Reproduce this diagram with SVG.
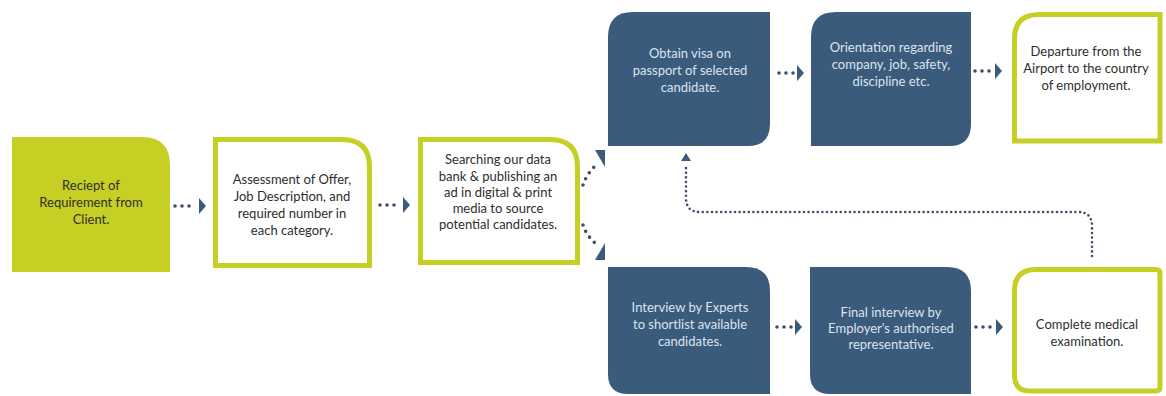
<svg xmlns="http://www.w3.org/2000/svg" width="1166" height="396" viewBox="0 0 1166 396">
<defs>
<style>
.g{fill:#c6cf23}
.o{fill:#fff;stroke:#c6cf23;stroke-width:5}
.b{fill:#3a5b7c}
.t{font-family:Lato,"Open Sans",sans-serif;font-size:13px;text-anchor:middle;fill:#2e2e2e}
.w{font-family:Lato,"Open Sans",sans-serif;font-size:13px;text-anchor:middle;fill:#dbe4ee}
.dots{fill:none;stroke:#3d4f66;stroke-width:3.6;stroke-linecap:round;stroke-dasharray:0 7}
.fine{fill:none;stroke:#3d4f66;stroke-width:2.6;stroke-linecap:round;stroke-dasharray:0 4.6}
.head{fill:#3a5b7c}
</style>
</defs>
<rect width="1166" height="396" fill="#fff"/>
<g id="n1">
<path class="g" d="M12,137 H142 Q170,137 170,165 V272 H12 Z"/>
<text class="t"><tspan x="91" y="190">Reciept of</tspan><tspan x="91" y="207">Requirement from</tspan><tspan x="91" y="224">Client.</tspan></text>
</g>
<g id="n2">
<path class="o" d="M215.5,139.5 H342 Q369.5,139.5 369.5,167 V265.5 H215.5 Z"/>
<text class="t"><tspan x="292" y="184">Assessment of Offer,</tspan><tspan x="292" y="201">Job Description, and</tspan><tspan x="292" y="218">required number in</tspan><tspan x="292" y="235">each category.</tspan></text>
</g>
<g id="n3">
<path class="o" d="M420.5,139.5 H550 Q577.5,139.5 577.5,167 V262.5 H420.5 Z"/>
<text class="t"><tspan x="498" y="164">Searching our data</tspan><tspan x="498" y="181">bank &amp; publishing an</tspan><tspan x="498" y="197">ad in digital &amp; print</tspan><tspan x="498" y="213">media to source</tspan><tspan x="498" y="229">potential candidates.</tspan></text>
</g>
<g id="n4">
<path class="b" d="M633,12 H770 V124 Q770,146 748,146 H608 V37 Q608,12 633,12 Z"/>
<text class="w"><tspan x="690" y="58">Obtain visa on</tspan><tspan x="690" y="75">passport of selected</tspan><tspan x="690" y="92">candidate.</tspan></text>
</g>
<g id="n5">
<path class="b" d="M836,12 H971 V124 Q971,146 949,146 H811 V37 Q811,12 836,12 Z"/>
<text class="w"><tspan x="891" y="52">Orientation regarding</tspan><tspan x="891" y="69">company, job, safety,</tspan><tspan x="891" y="86">discipline etc.</tspan></text>
</g>
<g id="n6">
<path class="o" d="M1039,14.5 H1160 V141 H1014.5 V39 Q1014.5,14.5 1039,14.5 Z"/>
<text class="t"><tspan x="1086" y="56">Departure from the</tspan><tspan x="1086" y="73">Airport to the country</tspan><tspan x="1086" y="90">of employment.</tspan></text>
</g>
<g id="n7">
<path class="b" d="M608,267 H746 Q770,267 770,291 V394 H628 Q608,394 608,374 Z"/>
<text class="w"><tspan x="690" y="312">Interview by Experts</tspan><tspan x="690" y="329">to shortlist available</tspan><tspan x="690" y="346">candidates.</tspan></text>
</g>
<g id="n8">
<path class="b" d="M810,267 H947 Q971,267 971,291 V394 H830 Q810,394 810,374 Z"/>
<text class="w"><tspan x="891" y="317">Final interview by</tspan><tspan x="891" y="333">Employer's authorised</tspan><tspan x="891" y="349">representative.</tspan></text>
</g>
<g id="n9">
<path class="o" d="M1036,269.5 H1156 Q1160,269.5 1160,273.5 V387 Q1160,391 1156,391 H1030 Q1014.5,391 1014.5,375.5 V291 Q1014.5,269.5 1036,269.5 Z"/>
<text class="t"><tspan x="1087" y="329">Complete medical</tspan><tspan x="1087" y="346">examination.</tspan></text>
</g>
<g id="connectors">
<path class="dots" d="M175,206 H190"/>
<polygon class="head" points="199,198 206,206 199,214"/>
<path class="dots" d="M380,205 H395"/>
<polygon class="head" points="403,197 410,205 403,213"/>
<path class="dots" d="M779,73 H794"/>
<polygon class="head" points="797,65 804,73 797,81"/>
<path class="dots" d="M975,71 H990"/>
<polygon class="head" points="995,63 1002,71 995,79"/>
<path class="dots" d="M777,327 H792"/>
<polygon class="head" points="795,319 802,327 795,335"/>
<path class="dots" d="M976,327 H991"/>
<polygon class="head" points="996,319 1003,327 996,335"/>
<path class="dots" d="M583,185 Q586,175 596,165"/>
<polygon class="head" points="595,150 605,150 605,167"/>
<path class="dots" d="M583,225 Q586,235 596,244"/>
<polygon class="head" points="605,243 605,260 595,260"/>
<path class="fine" d="M1092,256 V226 Q1092,212 1078,212 H700 Q686,212 686,198 V166"/>
<polygon class="head" points="686,153 681,161 691,161"/>
</g>
</svg>
